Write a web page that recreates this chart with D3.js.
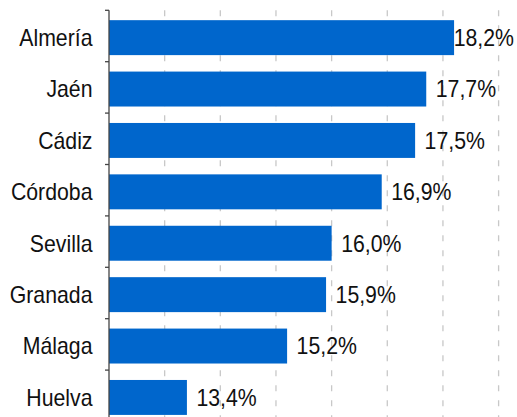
<!DOCTYPE html>
<meta charset="utf-8">
<style>
body { margin: 0; background: #fff; }
text { font-family: "Liberation Sans", Arial, sans-serif; font-size: 23px; fill: #111; }
.grid line { stroke: #c8c8c8; stroke-width: 1.3; stroke-dasharray: 6,9; }
.bar { fill: #0066cc; }
</style>
<body>
<script src="https://cdn.jsdelivr.net/npm/d3@7"></script>
<script>

// data
var provincias = ["Almería", "Jaén", "Cádiz", "Córdoba", "Sevilla", "Granada", "Málaga", "Huelva"];
var valores = [18.2, 17.7, 17.5, 16.9, 16.0, 15.9, 15.2, 13.4];
var gridTicks = [13, 14, 15, 16, 17, 18, 19];

var width = 517, height = 417;
var sx = 0.925; // text looks a bit narrow in the original

var x = d3.scaleLinear()
    .domain([12, 19])
    .range([109, 498.6]);

var y = d3.scaleBand()
    .domain(provincias)
    .range([10.3, 421.5])
    .paddingInner(0.32)
    .paddingOuter(0.16)
    .align(0.6);

var svg = d3.select("body").append("svg")
    .attr("width", width)
    .attr("height", height);

// dashed vertical grid
svg.append("g")
    .attr("class", "grid")
  .selectAll("line")
    .data(gridTicks)
  .enter().append("line")
    .attr("x1", function(d) { return x(d); })
    .attr("x2", function(d) { return x(d); })
    .attr("y1", y.range()[0])
    .attr("y2", y.range()[1]);

var data = provincias.map(function(p, i) { return {name: p, value: valores[i]}; });

// bars
svg.selectAll(".bar")
    .data(data)
  .enter().append("rect")
    .attr("class", "bar")
    .attr("x", x(12))
    .attr("y", function(d) { return y(d.name); })
    .attr("width", function(d) { return x(d.value) - x(12); })
    .attr("height", y.bandwidth());

function cy(d) { return y(d.name) + y.bandwidth() / 2; }

// value labels, kept inside the picture
svg.selectAll(".val")
    .data(data)
  .enter().append("text")
    .attr("class", "val")
    .attr("dy", "0.36em")
    .text(function(d) { return d3.format(".1f")(d.value).replace(".", ",") + "%"; })
    .attr("transform", function(d) {
      var w = this.getComputedTextLength() * sx;
      var tx = Math.min(x(d.value) + 9.5, width - 3 - w);
      return "translate(" + tx + "," + cy(d) + ") scale(" + sx + ",1)";
    });

// category labels
svg.selectAll(".cat")
    .data(data)
  .enter().append("text")
    .attr("class", "cat")
    .attr("text-anchor", "end")
    .attr("dy", "0.36em")
    .attr("transform", function(d) {
      return "translate(" + (x(12) - 16.5) + "," + cy(d) + ") scale(" + sx + ",1)";
    })
    .text(function(d) { return d.name; });

// left axis line with ticks at band boundaries
var step = y.step();
var r0 = y.range()[0];
var bounds = d3.range(provincias.length + 1).map(function(i) { return r0 + i * step; });

svg.append("line")
    .attr("x1", x(12)).attr("x2", x(12))
    .attr("y1", r0).attr("y2", y.range()[1])
    .attr("stroke", "#444").attr("stroke-width", 1.3);

svg.selectAll(".tk")
    .data(bounds)
  .enter().append("line")
    .attr("class", "tk")
    .attr("x1", x(12) - 4).attr("x2", x(12))
    .attr("y1", function(d) { return d; })
    .attr("y2", function(d) { return d; })
    .attr("stroke", "#444").attr("stroke-width", 1.3);

</script>
</body>
